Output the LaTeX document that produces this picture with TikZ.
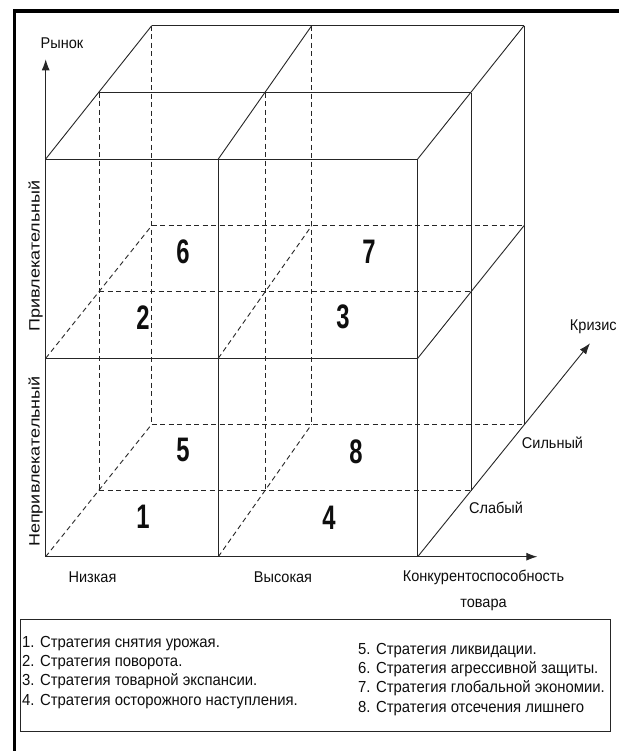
\documentclass[tikz,border=0pt]{standalone}
\usepackage{fontspec}
\setmainfont{Liberation Sans}
\newfontfamily\narrowfont[FakeStretch=0.93]{Liberation Sans}
\newfontfamily\sidefont[FakeStretch=1.2]{Liberation Sans}
\newfontfamily\cellfont[FakeStretch=0.7]{Liberation Sans}
\usetikzlibrary{arrows.meta}
\definecolor{ink}{HTML}{0E0E0E}
\definecolor{edgec}{HTML}{262626}
\definecolor{framec}{HTML}{000000}

\begin{document}
\begin{tikzpicture}[
  x=1pt,y=-1pt,
  >={Latex[length=11pt,width=8pt]},
  edge/.style={draw=edgec,line width=0.9pt},
  hidden/.style={draw=edgec,line width=0.9pt,dash pattern=on 5pt off 3.5pt},
  axis/.style={->,draw=edgec,line width=0.9pt},
  lbl/.style={font=\narrowfont\fontsize{15.6}{17}\selectfont,text=ink,inner sep=0pt,text height=11pt,text depth=3pt},
  side/.style={font=\sidefont\fontsize{15}{17}\selectfont,text=ink,inner sep=0pt,rotate=90,text height=11pt,text depth=3pt},
  cell/.style={font=\cellfont\fontsize{34}{36}\selectfont\bfseries,text=ink,inner sep=0pt},
  key/.style={font=\narrowfont\fontsize{16}{18}\selectfont,text=ink,inner sep=0pt,anchor=west,text height=11.5pt,text depth=3pt},
  keybox/.style={draw=edgec,line width=0.9pt,minimum width=590.7pt,minimum height=112pt,inner sep=0pt},
]
\useasboundingbox (0,0) rectangle (619,751);
\fill[white] (0,0) rectangle (619,751);

% ===================== PAGE FRAME =====================
\draw[framec,line width=3.5pt] (14.3,751) -- (14.3,10.8) -- (619,10.8);

% ===================== CUBE CORNERS =====================
% layers: f = front, m = weak crisis, r = strong crisis; rows t/c/b; columns l/m/r
\foreach \ly/\xa/\xb/\xc/\ya/\yb/\yc in {f/45.7/218.3/417.7/159/358.3/556.7,
    m/99/265/471/92.7/291.7/490.7, r/151.7/311.7/524/25.7/225.7/424.3}{
  \foreach \rw/\y in {t/\ya,c/\yb,b/\yc}{
    \coordinate (\ly\rw l) at (\xa,\y);
    \coordinate (\ly\rw m) at (\xb,\y);
    \coordinate (\ly\rw r) at (\xc,\y);
  }
}

% hidden edges
\foreach \p/\q in {mtl/mbl,mtm/mbm,rtl/rbl,rtm/rbm,mcl/mcr,mbl/mbr,rcl/rcr,rbl/rbr,
    fcl/rcl,fbl/rbl,fcm/rcm,fbm/rbm}
  \draw[hidden] (\p) -- (\q);

% visible edges
\foreach \p/\q in {ftl/ftr,mtl/mtr,rtl/rtr,ftl/rtl,ftm/rtm,ftr/rtr,
    ftm/fbm,ftr/fbr,fcl/fcr,mtr/mbr,rtr/rbr,fcr/rcr}
  \draw[edge] (\p) -- (\q);

% ===================== AXES =====================
\coordinate (ytip) at (45.7,59.3);
\coordinate (xtip) at (537.3,556.7);
\coordinate (ztip) at (590,343.3);
\draw[axis] (fbl) -- (ytip);
\draw[axis] (fbl) -- (xtip);
\draw[axis] (fbr) -- (ztip);

\node[lbl] (market) at (62,45) {Рынок};
\node[side] (attract) at (35.5,256) {Привлекательный};
\node[side] (unattract) at (35.5,461.5) {Непривлекательный};
\node[lbl] (low) at (92.5,578) {Низкая};
\node[lbl] (high) at (283,578) {Высокая};
\node[lbl,align=center,font=\narrowfont\fontsize{15.6}{26}\selectfont,text height=,text depth=] (compet) at (483.5,590)
  {Конкурентоспособность\\товара};
\node[lbl] (crisis) at (593.3,326.7) {Кризис};
\node[lbl] (strong) at (552.5,444) {Сильный};
\node[lbl] (weak) at (496,509.3) {Слабый};

% ===================== CELL NUMBERS =====================
\foreach \n/\x/\y in {6/183/252,7/369/252,2/143/318,3/343/317,5/183/450,8/356/452,1/143/517,4/329/518}
  \node[cell] (cell\n) at (\x,\y) {\n};

% ===================== LEGEND =====================
\node[keybox] (legend) at (315.35,675) {};
\foreach \n/\x/\y/\t in {1/22/643/{Стратегия снятия урожая.},
    2/22/662.3/{Стратегия поворота.},
    3/22/681.7/{Стратегия товарной экспансии.},
    4/22/701/{Стратегия осторожного наступления.},
    5/358/650/{Стратегия ликвидации.},
    6/358/669.3/{Стратегия агрессивной защиты.},
    7/358/688.7/{Стратегия глобальной экономии.},
    8/358/708/{Стратегия отсечения лишнего}}
  \node[key] (key\n) at (\x,\y) {\n. \t};

\end{tikzpicture}
\end{document}
